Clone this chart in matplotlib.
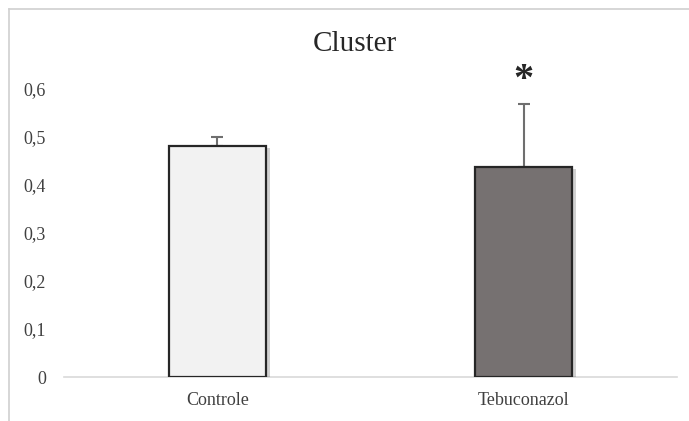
import numpy as np
import matplotlib
matplotlib.use("Agg")
import matplotlib.pyplot as plt
import matplotlib.patheffects as pe
from matplotlib.ticker import FuncFormatter

# data
groups = ["Controle", "Tebuconazol"]
means = [0.479, 0.436]
errors = [0.020, 0.132]
signif = ["", "*"]
fills = ["#f2f2f2", "#767171"]

plt.rcParams["font.family"] = ["Liberation Serif", "DejaVu Serif"]

fig = plt.figure(figsize=(6.89, 4.21), dpi=100)
ax = fig.add_axes([64 / 689, 1 - 377 / 421, 613 / 689, (377 - 40) / 421])

x = np.arange(len(groups))
bars = ax.bar(x, means, width=0.315, color=fills, edgecolor="#262626", linewidth=1.6,
              zorder=3)
for b in bars:
    b.set_path_effects([pe.SimplePatchShadow(offset=(3, -1.5), alpha=0.18, shadow_rgbFace="#000000"),
                        pe.Normal()])
ax.errorbar(x, means, yerr=[np.zeros(len(errors)), errors], fmt="none", ecolor="#6f6f6f",
            elinewidth=1.5, capsize=4, capthick=1.5, zorder=2)

for xi, m, e, s in zip(x, means, errors, signif):
    if s:
        ax.text(xi, m + e + 0.047, s, ha="center", va="center", fontsize=29,
                fontweight="bold", color="#262626")

ax.set_xlim(-0.5, 1.5)
ax.set_ylim(0, 0.7)
ax.set_yticks(np.arange(0, 0.61, 0.1))
ax.yaxis.set_major_formatter(FuncFormatter(lambda v, p: "0" if v == 0 else f"{v:.1f}".replace(".", ",")))
ax.set_xticks(x)
ax.set_xticklabels(groups)
ax.tick_params(axis="both", length=0, labelsize=13, colors="#404040")
ax.tick_params(axis="y", pad=13)
ax.tick_params(axis="x", pad=11)
for side in ["top", "right", "left"]:
    ax.spines[side].set_visible(False)
ax.spines["bottom"].set_color("#d9d9d9")
ax.spines["bottom"].set_linewidth(1.2)

fig.text(355 / 689, 1 - 44 / 421, "Cluster", ha="center", va="center",
         fontsize=21, color="#262626")

# light chart border (left and top edges visible)
fig.add_artist(plt.Line2D([9 / 689, 9 / 689], [0, 1 - 9 / 421], color="#d0d0d0", lw=1.2,
                          transform=fig.transFigure))
fig.add_artist(plt.Line2D([9 / 689, 1], [1 - 9 / 421, 1 - 9 / 421], color="#d0d0d0", lw=1.2,
                          transform=fig.transFigure))

fig.savefig("out.png", dpi=100)
